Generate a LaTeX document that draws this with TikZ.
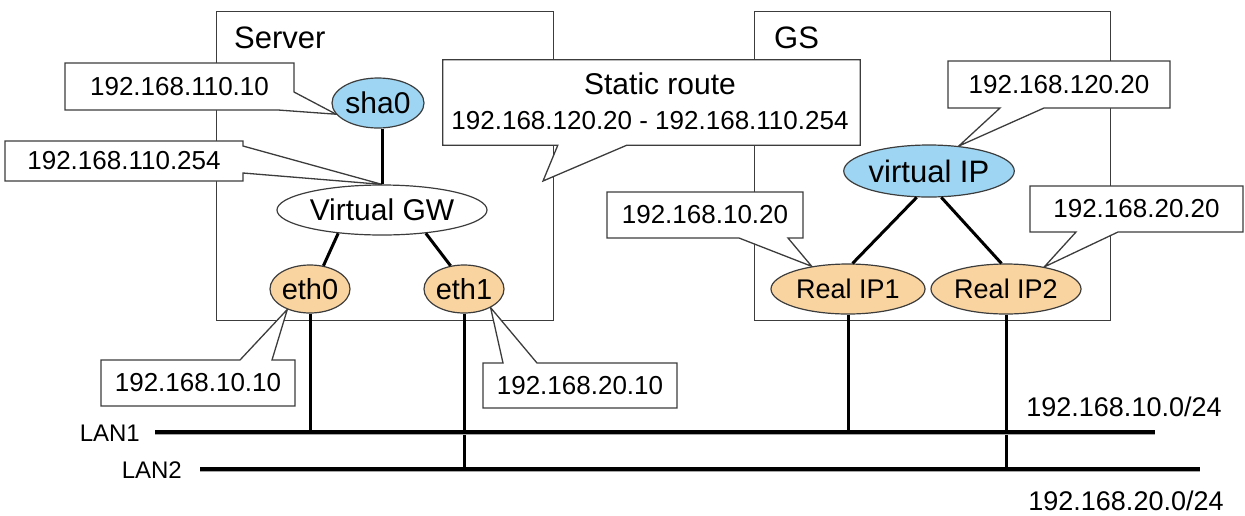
\documentclass[tikz,border=0pt]{standalone}
\usepackage{fontspec}
\setmainfont{Liberation Sans}
\usetikzlibrary{shapes.geometric,calc}
\pgfdeclarelayer{bg}
\pgfdeclarelayer{mid}
\pgfsetlayers{bg,mid,main}
\definecolor{bluefill}{RGB}{157,213,242}
\definecolor{orangefill}{RGB}{250,212,160}
\definecolor{edge}{RGB}{60,60,60}
\begin{document}
\begin{tikzpicture}[x=1pt,y=-1pt,
  frame/.style={draw=edge, line width=1.3pt, inner sep=0pt, anchor=north west},
  title/.style={font=\fontsize{31}{36}\selectfont, inner sep=0pt, anchor=west},
  tag/.style={font=\fontsize{26}{30}\selectfont, inner sep=0pt, outer sep=0pt},
  callout/.style={draw=edge, fill=white, line width=1.3pt, line join=miter},
  ell/.style={ellipse, draw=edge, line width=1.2pt, inner sep=0pt, font=\fontsize{29}{33}\selectfont},
  blueell/.style={ell, fill=bluefill},
  orangeell/.style={ell, fill=orangefill},
  link/.style={line width=3pt, black},
  lanline/.style={line width=3.5pt, black},
  lanshadow/.style={line width=3.5pt, black!35},
  lantag/.style={font=\fontsize{24}{28}\selectfont, inner sep=0pt},
  nettag/.style={font=\fontsize{27}{30}\selectfont, inner sep=0pt}
]
\useasboundingbox (0,0) rectangle (1245,515);

% host boxes
\begin{pgfonlayer}{bg}
\node[frame, minimum width=337pt, minimum height=309pt] (server) at (216,11) {};
\node[frame, minimum width=356pt, minimum height=309pt] (gs) at (754,11) {};
\end{pgfonlayer}
\node[title] (servertxt) at (234,38) {Server};
\node[title] (gstxt) at (774,38) {GS};

% interfaces
\node[blueell, minimum width=86pt, minimum height=50pt, font=\fontsize{30}{34}\selectfont] (sha0) at (378,103) {sha0};
\node[ell, fill=white, minimum width=210pt, minimum height=50pt, font=\fontsize{30}{34}\selectfont] (vgw) at (382,210) {Virtual GW};
\node[orangeell, minimum width=80pt, minimum height=48pt] (eth0) at (310,289) {eth0};
\node[orangeell, minimum width=80pt, minimum height=48pt] (eth1) at (464,289) {eth1};
\node[blueell, minimum width=150pt, minimum height=52pt, font=\fontsize{31}{35}\selectfont] (vip) at (929,171) {virtual IP};
\node[orangeell, minimum width=154pt, minimum height=50pt, font=\fontsize{27}{30}\selectfont] (rip1) at (848,289) {Real IP1};
\node[orangeell, minimum width=150pt, minimum height=50pt, font=\fontsize{27}{30}\selectfont] (rip2) at (1006,289) {Real IP2};

% internal links
\draw[link] (sha0.south -| vgw.north) -- (vgw.north);
\draw[link] (vgw.208) -- (eth0.60);
\draw[link] (vgw.332) -- (eth1.120);
\draw[link] (vip.245) -- (rip1.80);
\draw[link] (vip.295) -- (rip2.100);

% callout texts
\node[tag, minimum width=229pt, minimum height=47pt] (c1) at (179.5,86.5) {192.168.110.10};
\node[tag, minimum width=238pt, minimum height=40pt] (c2) at (124,161) {192.168.110.254};
\node[inner sep=0pt, minimum width=417pt, minimum height=85pt] (sr) at (651.5,102.5) {};
\node[tag, font=\fontsize{30}{34}\selectfont] (srtitle) at (660,84) {Static route};
\node[tag] (srroute) at (650,121) {192.168.120.20 - 192.168.110.254};
\coordinate (srtip) at (543,181);
\node[tag, minimum width=222pt, minimum height=47pt] (c4) at (1059,84.5) {192.168.120.20};
\node[tag, minimum width=196pt, minimum height=46pt] (c5) at (705,215) {192.168.10.20};
\node[tag, minimum width=213pt, minimum height=46pt] (c6) at (1136.5,209) {192.168.20.20};
\node[tag, minimum width=194pt, minimum height=46pt] (c7) at (198,383) {192.168.10.10};
\node[tag, minimum width=194pt, minimum height=45pt] (c8) at (580,385.5) {192.168.20.10};

% callout outlines
\begin{pgfonlayer}{mid}
\draw[callout] (c1.north west) -- (c1.north east) -- ([yshift=-29pt]c1.north east) -- (sha0.195)
  -- ([xshift=-16pt]c1.south east) -- (c1.south west) -- cycle;
\draw[callout] (c2.north west) -- (c2.north east) -- ([yshift=-5pt]c2.north east) -- (vgw.north)
  -- ([yshift=-32pt]c2.north east) -- (c2.south east) -- (c2.south west) -- cycle;
\draw[callout] (sr.north west) -- (sr.north east) -- (sr.south east) -- ([xshift=184pt]sr.south west)
  -- (srtip) -- ([xshift=115pt]sr.south west) -- (sr.south west) -- cycle;
\draw[callout] (c4.north west) -- (c4.north east) -- (c4.south east) -- ([xshift=96pt]c4.south west)
  -- (vip.40) -- ([xshift=52pt]c4.south west) -- (c4.south west) -- cycle;
\draw[callout] (c5.north west) -- (c5.north east) -- (c5.south east) -- ([xshift=181pt]c5.south west)
  -- (rip1.148) -- ([xshift=132pt]c5.south west) -- (c5.south west) -- cycle;
\draw[callout] (c6.north west) -- (c6.north east) -- (c6.south east) -- ([xshift=88pt]c6.south west)
  -- (rip2.30) -- ([xshift=46pt]c6.south west) -- (c6.south west) -- cycle;
\draw[callout] (c7.north west) -- ([xshift=139pt]c7.north west) -- (eth0.222)
  -- ([xshift=171pt]c7.north west) -- (c7.north east) -- (c7.south east) -- (c7.south west) -- cycle;
\draw[callout] (c8.north west) -- ([xshift=20pt]c8.north west) -- (eth1.325)
  -- ([xshift=54pt]c8.north west) -- (c8.north east) -- (c8.south east) -- (c8.south west) -- cycle;
\end{pgfonlayer}

% LANs
\coordinate (l1a) at (155,432);
\coordinate (l1b) at (1155,432);
\coordinate (l2a) at (200,469);
\coordinate (l2b) at (1200,469);
\draw[link] (eth0.south) -- (eth0.south |- l1a);
\draw[link] (eth1.south) -- (eth1.south |- l2a);
\draw[link] (rip1.south) -- (rip1.south |- l1a);
\draw[link] (rip2.south) -- (rip2.south |- l2a);
\draw[lanshadow] ([yshift=-1.5pt]l1a) -- ([yshift=-1.5pt]l1b);
\draw[lanline] (l1a) -- (l1b);
\draw[lanshadow] ([yshift=-1.5pt]l2a) -- ([yshift=-1.5pt]l2b);
\draw[lanline] (l2a) -- (l2b);
\node[lantag, anchor=east] (lan1) at (140,433) {LAN1};
\node[lantag, anchor=east] (lan2) at (182,470) {LAN2};
\node[nettag] (net1) at (1124,407) {192.168.10.0/24};
\node[nettag] (net2) at (1126,501) {192.168.20.0/24};
\end{tikzpicture}
\end{document}
